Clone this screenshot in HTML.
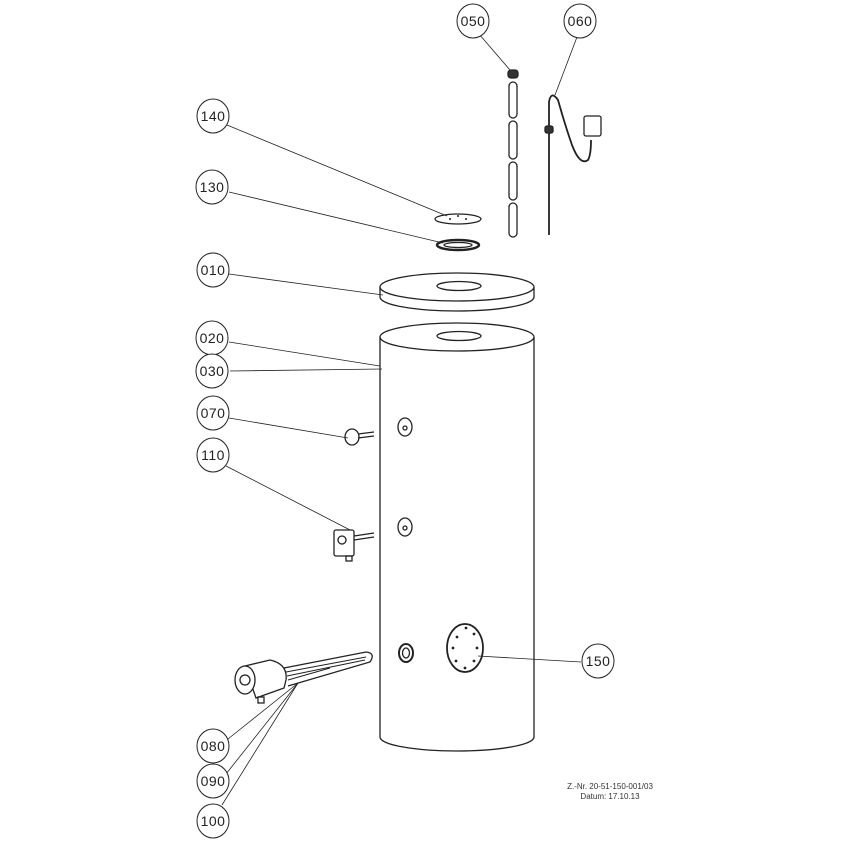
<!DOCTYPE html>
<html><head><style>
html,body{margin:0;padding:0;background:#fff;}
svg{display:block;}
text{font-family:"Liberation Sans",sans-serif;}
</style></head><body>
<svg width="843" height="843" viewBox="0 0 843 843" xmlns="http://www.w3.org/2000/svg">
<g fill="none" stroke="#222" stroke-width="0.8">
<line x1="479" y1="34" x2="510" y2="70"/>
<line x1="577" y1="37" x2="555" y2="95"/>
<line x1="227" y1="125" x2="447" y2="216"/>
<line x1="229" y1="192" x2="443" y2="243"/>
<line x1="229" y1="274" x2="383" y2="295"/>
<line x1="229" y1="342" x2="380" y2="366"/>
<line x1="230" y1="371" x2="382" y2="369"/>
<line x1="229" y1="418" x2="348" y2="438"/>
<line x1="226" y1="466" x2="350" y2="530"/>
<line x1="478" y1="656" x2="581" y2="662"/>
<line x1="228" y1="739" x2="298" y2="683"/>
<line x1="226" y1="774" x2="298" y2="683"/>
<line x1="222" y1="805" x2="298" y2="683"/>
</g>
<g fill="#fff" stroke="#222" stroke-width="1">
<ellipse cx="473" cy="21" rx="16" ry="17"/>
<ellipse cx="580" cy="21" rx="16" ry="17"/>
<ellipse cx="213" cy="116" rx="16" ry="17"/>
<ellipse cx="212" cy="187" rx="16" ry="17"/>
<ellipse cx="213" cy="270" rx="16" ry="17"/>
<ellipse cx="212" cy="338" rx="16" ry="17"/>
<ellipse cx="212" cy="371" rx="16" ry="17"/>
<ellipse cx="213" cy="413" rx="16" ry="17"/>
<ellipse cx="213" cy="455" rx="16" ry="17"/>
<ellipse cx="598" cy="661" rx="16" ry="17"/>
<ellipse cx="213" cy="746" rx="16" ry="17"/>
<ellipse cx="213" cy="781" rx="16" ry="17"/>
<ellipse cx="213" cy="821" rx="16" ry="17"/>
</g>
<g font-size="14" fill="#222" text-anchor="middle" style="letter-spacing:0.5px">
<text x="473" y="26">050</text>
<text x="580" y="26">060</text>
<text x="213" y="121">140</text>
<text x="212" y="192">130</text>
<text x="213" y="275">010</text>
<text x="212" y="343">020</text>
<text x="212" y="376">030</text>
<text x="213" y="418">070</text>
<text x="213" y="460">110</text>
<text x="598" y="666">150</text>
<text x="213" y="751">080</text>
<text x="213" y="786">090</text>
<text x="213" y="826">100</text>
</g>
<g fill="none" stroke="#222" stroke-width="1.3">
<path d="M380,337 L380,737 A77,14 0 0 0 534,737 L534,337"/>
<ellipse cx="457" cy="337" rx="77" ry="14" fill="#fff"/>
<ellipse cx="459" cy="336" rx="22" ry="4.5"/>
<path d="M380,287 L380,297 A77,14 0 0 0 534,297 L534,287"/>
<ellipse cx="457" cy="287" rx="77" ry="14" fill="#fff"/>
<ellipse cx="459" cy="286" rx="22" ry="4.5"/>
<ellipse cx="458" cy="219" rx="23" ry="5"/>
<ellipse cx="458" cy="245" rx="21" ry="5" stroke-width="2.5"/>
<ellipse cx="458" cy="245" rx="14" ry="2.5"/>
<rect x="508" y="70" width="10" height="8" rx="3" fill="#333"/>
<rect x="509" y="82" width="8" height="36" rx="4"/>
<rect x="509" y="121" width="8" height="38" rx="4"/>
<rect x="509" y="162" width="8" height="38" rx="4"/>
<rect x="509" y="203" width="8" height="34" rx="4"/>
<path d="M549,235 L549,102 Q551,90 558,100 Q565,125 572,145 Q580,166 588,160 Q591,155 591,140" stroke-width="1.8"/>
<rect x="545" y="126" width="8" height="7" rx="2" fill="#333"/>
<rect x="584" y="116" width="17" height="20" rx="2" fill="#fff"/>
<ellipse cx="405" cy="427" rx="7" ry="9"/>
<circle cx="405" cy="428" r="2"/>
<ellipse cx="405" cy="527" rx="7" ry="9"/>
<circle cx="405" cy="528" r="2"/>
<ellipse cx="406" cy="653" rx="7" ry="9" stroke-width="2"/>
<ellipse cx="406" cy="653" rx="3.5" ry="5"/>
<ellipse cx="465" cy="648" rx="18" ry="24" stroke-width="1.8"/>
<ellipse cx="352" cy="437" rx="7" ry="8"/>
<line x1="358" y1="434" x2="374" y2="432"/>
<line x1="358" y1="438" x2="374" y2="436"/>
<rect x="334" y="530" width="20" height="26" rx="2" fill="#fff"/>
<circle cx="342" cy="540" r="4"/>
<rect x="346" y="556" width="6" height="5"/>
<line x1="354" y1="536" x2="374" y2="533"/>
<line x1="354" y1="540" x2="374" y2="537"/>
<path d="M284,668 L366,652 Q376,653 370,662 L288,686"/>
<path d="M286,672 L366,657 M287,676 L365,660 M288,680 L330,668" stroke-width="1"/>
<path d="M245,666 L270,660 Q288,664 286,680 L284,688 L256,698 Z" fill="#fff"/>
<ellipse cx="245" cy="680" rx="10" ry="14" fill="#fff"/>
<circle cx="245" cy="680" r="5"/>
<rect x="258" y="697" width="6" height="6"/>
</g>
<g fill="#222">
<circle cx="457" cy="637" r="1.4"/><circle cx="466" cy="628" r="1.4"/><circle cx="474" cy="634" r="1.4"/>
<circle cx="477" cy="648" r="1.4"/><circle cx="474" cy="661" r="1.4"/><circle cx="465" cy="668" r="1.4"/>
<circle cx="456" cy="661" r="1.4"/><circle cx="453" cy="648" r="1.4"/>
<circle cx="450" cy="219" r="1"/><circle cx="466" cy="219" r="1"/><circle cx="458" cy="216" r="1"/>
</g>
<g font-size="8" fill="#333" text-anchor="middle">
<text x="610" y="789">Z.-Nr. 20-51-150-001/03</text>
<text x="610" y="799">Datum: 17.10.13</text>
</g>
</svg>
</body></html>
